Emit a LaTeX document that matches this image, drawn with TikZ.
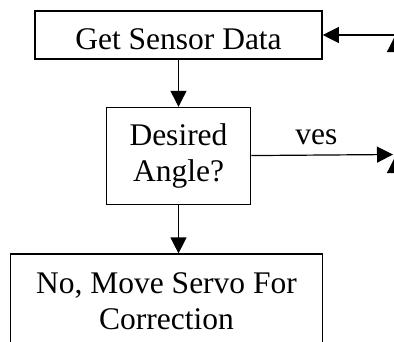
\documentclass[tikz,border=0pt]{standalone}
\usepackage{fontspec}
\setmainfont{Liberation Serif}
\usetikzlibrary{arrows.meta,positioning}

\begin{document}
\begin{tikzpicture}[
    x=1pt, y=-1pt,
    font=\fontsize{31.5}{36}\selectfont,
    block/.style={draw, line width=1.6pt, inner sep=0pt, align=center},
    arrow/.style={-{Triangle[length=16pt,width=16pt]}, line width=1.2pt}
]
    \useasboundingbox (0,0) rectangle (394,341);
    \clip (0,0) rectangle (394,341);

    \node[block, minimum width=287pt, minimum height=48pt, text height=38pt, text depth=10pt] (sensor) at (178.5,35) {Get Sensor Data};
    \node[block, minimum width=144pt, minimum height=97pt, below=47pt of sensor] (angle) {Desired\\Angle?};
    \node[block, minimum width=312pt, minimum height=95pt, below=48pt of angle, xshift=-12pt] (servo) {No, Move Servo For\\Correction};

    % loose ends running off to the right
    \coordinate (backIn) at (394,35);
    \coordinate (yesOut) at (393,154.5);
    \coordinate (loopTop) at (395,36);
    \coordinate (loopTopFoot) at (395,90);
    \coordinate (loopLow) at (395,157);
    \coordinate (loopLowFoot) at (395,210);

    \draw[arrow] (sensor) -- (angle);
    \draw[arrow] (angle) -- (angle |- servo.north);
    \draw[arrow] (angle) -- node[above=6pt, pos=0.46] (yeslbl) {ves} (yesOut);
    \draw[arrow] (backIn) -- (sensor.east);
    \draw[arrow] (loopTopFoot) -- (loopTop);
    \draw[arrow] (loopLowFoot) -- (loopLow);
\end{tikzpicture}
\end{document}
